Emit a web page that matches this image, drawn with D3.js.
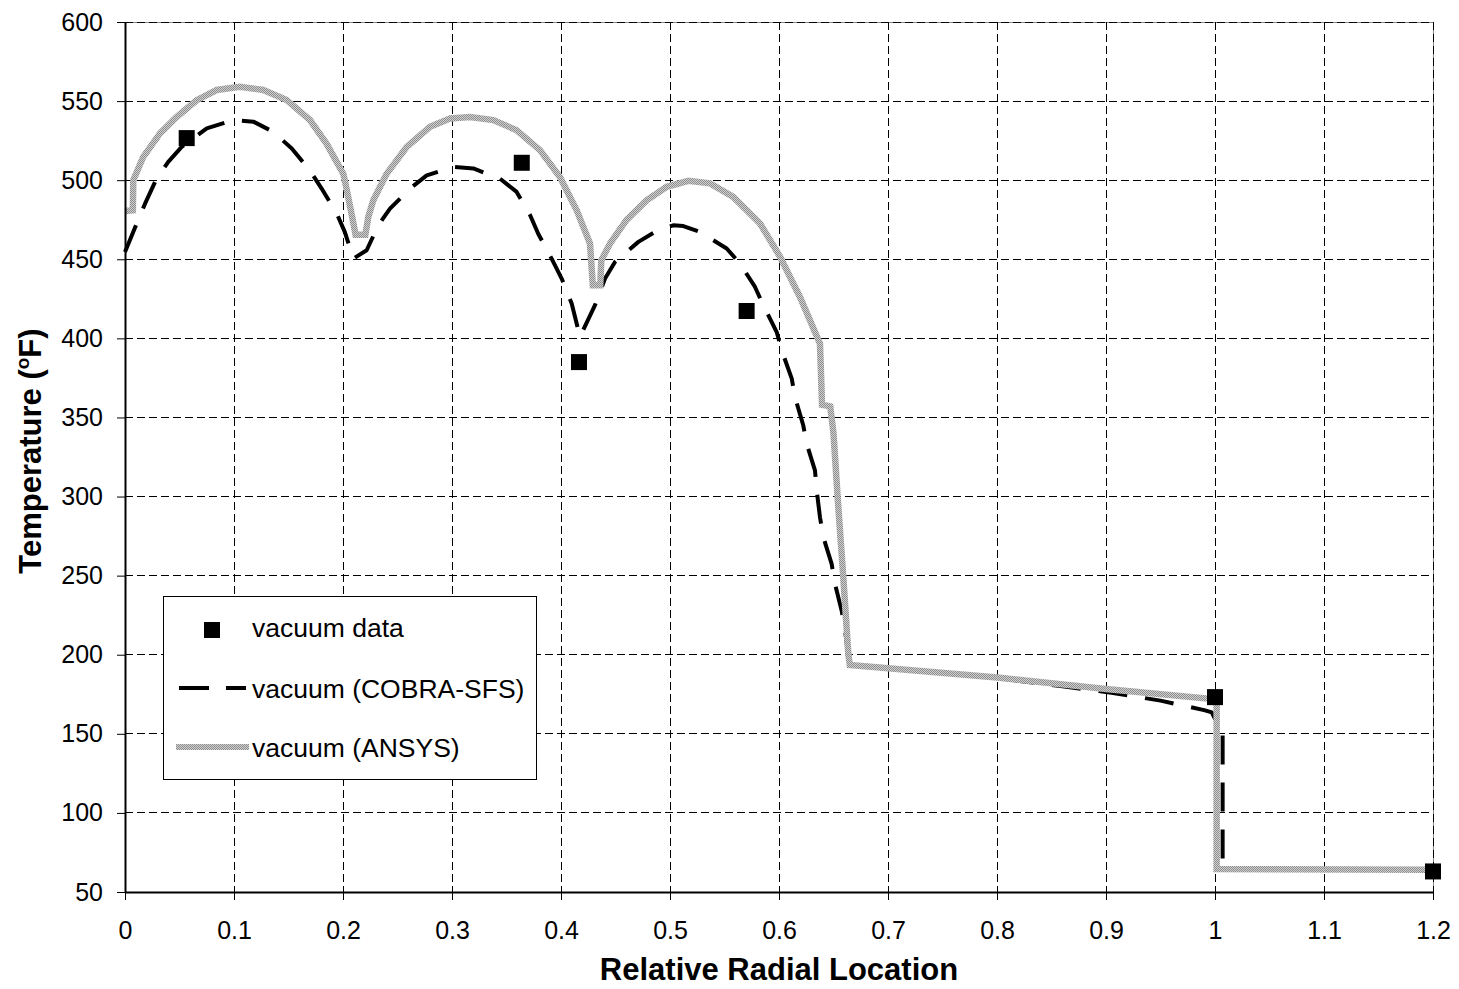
<!DOCTYPE html>
<html>
<head>
<meta charset="utf-8">
<script src="https://cdn.jsdelivr.net/npm/d3@7"></script>
<style>
  html, body { margin: 0; padding: 0; background: #fff; }
  svg text { font-family: "Liberation Sans", Arial, sans-serif; fill: #000; }
</style>
</head>
<body>
<svg id="chart" width="1459" height="989"></svg>
<script>
// ─── data ────────────────────────────────────────────────────────────────────
const xTicks = [0, 0.1, 0.2, 0.3, 0.4, 0.5, 0.6, 0.7, 0.8, 0.9, 1, 1.1, 1.2];
const xTickLabels = ['0','0.1','0.2','0.3','0.4','0.5','0.6','0.7','0.8','0.9','1','1.1','1.2'];
const yTicks = [50, 100, 150, 200, 250, 300, 350, 400, 450, 500, 550, 600];

const dataX = [0.0566, 0.364, 0.4165, 0.5703, 1.0, 1.2];
const dataT = [526.6, 511, 385, 417.3, 173.2, 63];

const cobraX = [0, 0.0107, 0.0183, 0.029, 0.0397, 0.052, 0.075, 0.0994, 0.1177, 0.136,
  0.153, 0.1697, 0.1804, 0.1942, 0.2018, 0.2095, 0.2217, 0.2324, 0.2431, 0.2615,
  0.2768, 0.3012, 0.3196, 0.344, 0.3593, 0.3716, 0.3792, 0.3914, 0.4006, 0.4098,
  0.4174, 0.4312, 0.4404, 0.4495, 0.471, 0.4862, 0.503, 0.5122, 0.5275, 0.552,
  0.5642, 0.578, 0.5856, 0.5979, 0.6025, 0.6117, 0.6147, 0.6223, 0.6254, 0.633,
  0.6346, 0.6376, 0.6407, 0.6483, 0.6514, 0.6575, 0.6606, 0.6636, 0.665, 0.80,
  0.86, 0.905, 0.95, 0.99, 0.997, 1.007, 1.007, 1.007, 1.2];
const cobraT = [454.6, 472.6, 485, 501, 511.6, 521, 532.7, 538, 537, 530.6,
  520, 506, 494.7, 479, 467, 450.4, 455.7, 471.5, 482, 494.7,
  503, 508.4, 507.4, 501, 492.6, 478, 466, 450.4, 437.8, 422,
  401, 421, 437.8, 448.3, 461, 467.3, 471.5, 471, 467.3, 456.8,
  447.3, 432.5, 420.9, 404, 392.4, 374.5, 362.8, 344.9, 333.3, 316.5,
  303.8, 286.9, 274.2, 257.4, 244.7, 227.8, 215.2, 199.4, 194, 185.3,
  180, 176, 171, 165, 163.5, 150, 71.7, 64, 64];

const ansysX = [0, 0.0072, 0.0076, 0.0168, 0.0321, 0.0474, 0.0658, 0.0841, 0.1055, 0.1269,
  0.1483, 0.1697, 0.185, 0.2003, 0.2034, 0.2095, 0.2115, 0.2205, 0.2233, 0.2278,
  0.24, 0.2584, 0.2798, 0.2982, 0.3165, 0.3379, 0.3593, 0.3807, 0.399, 0.4144,
  0.4266, 0.4292, 0.436, 0.437, 0.445, 0.46, 0.4786, 0.497, 0.5168, 0.5367,
  0.558, 0.5826, 0.601, 0.6193, 0.6376, 0.6395, 0.647, 0.650, 0.654, 0.659,
  0.6636, 0.665, 0.80, 0.90, 0.998, 1.0015, 1.0015, 1.2];
const ansysT = [480.5, 481, 500, 514.8, 529.6, 540, 550.6, 557, 559, 557,
  550.6, 538, 523, 504, 494, 473, 465.5, 465.5, 477, 487.3,
  504, 521, 533.7, 539, 540, 538, 531.6, 519, 502, 481,
  460, 433.5, 433.5, 449.4, 460, 474.7, 487.3, 495.8, 499.6, 498,
  489.4, 472.6, 451.5, 426, 396.6, 358, 357, 340, 297.5, 249,
  200.4, 193.5, 185.6, 178.3, 172, 170, 64.5, 64];

const legendLabels = ['vacuum data', 'vacuum (COBRA-SFS)', 'vacuum (ANSYS)'];

// ─── layout ─────────────────────────────────────────────────────────────────
const W = 1459, H = 989;
const M = { left: 125, right: 26, top: 22, bottom: 97 };
const svg = d3.select('#chart');

const x = d3.scaleLinear().domain([0, 1.2]).range([M.left, W - M.right]);
const y = d3.scaleLinear().domain([50, 600]).range([H - M.bottom, M.top]);

// stippled grey used by the ANSYS line
const pat = svg.append('defs').append('pattern')
  .attr('id', 'stip').attr('patternUnits', 'userSpaceOnUse')
  .attr('width', 2).attr('height', 2);
pat.append('rect').attr('width', 2).attr('height', 2).attr('fill', '#cfcfcf');
pat.append('rect').attr('x', 0).attr('y', 0).attr('width', 1).attr('height', 1).attr('fill', '#8e8e8e');
pat.append('rect').attr('x', 1).attr('y', 1).attr('width', 1).attr('height', 1).attr('fill', '#8e8e8e');

// plot frame (grey, top and right)
svg.append('rect')
  .attr('x', x(0)).attr('y', y(600))
  .attr('width', x(1.2) - x(0)).attr('height', y(50) - y(600))
  .attr('fill', 'none').attr('stroke', '#888').attr('stroke-width', 1)
  .attr('shape-rendering', 'crispEdges');

// grid
const grid = svg.append('g').attr('stroke', '#000').attr('stroke-width', 1)
  .attr('stroke-dasharray', '8,4').attr('shape-rendering', 'crispEdges');
grid.selectAll('.gx').data(xTicks.filter(d => d > 0)).enter()
  .append('line').attr('class', 'gx')
  .attr('x1', d => x(d)).attr('x2', d => x(d))
  .attr('y1', y(600)).attr('y2', y(50));
grid.selectAll('.gy').data(yTicks.filter(d => d > 50)).enter()
  .append('line').attr('class', 'gy')
  .attr('y1', d => y(d)).attr('y2', d => y(d))
  .attr('x1', x(0)).attr('x2', x(1.2));

// series
const line = d3.line().x(d => x(d[0])).y(d => y(d[1]));
const cobra = cobraX.map((v, i) => [v, cobraT[i]]);
const ansys = ansysX.map((v, i) => [v, ansysT[i]]);

svg.append('path').datum(cobra)
  .attr('d', line).attr('fill', 'none')
  .attr('stroke', '#000').attr('stroke-width', 4)
  .attr('stroke-dasharray', '29,18').attr('stroke-linejoin', 'round');

svg.append('path').datum(ansys)
  .attr('d', line).attr('fill', 'none')
  .attr('stroke', 'url(#stip)').attr('stroke-width', 6.5)
  .attr('stroke-linejoin', 'miter');

svg.selectAll('.pt').data(dataX).enter()
  .append('rect').attr('class', 'pt')
  .attr('x', d => x(d) - 8).attr('y', (d, i) => y(dataT[i]) - 8)
  .attr('width', 16).attr('height', 16).attr('fill', '#000');

// axes
const ax = svg.append('g').attr('transform', `translate(0,${y(50)})`)
  .call(d3.axisBottom(x).tickValues(xTicks).tickFormat((d, i) => xTickLabels[i])
    .tickSize(8).tickSizeOuter(0).tickPadding(21));
const ay = svg.append('g').attr('transform', `translate(${x(0)},0)`)
  .call(d3.axisLeft(y).tickValues(yTicks).tickSize(8).tickSizeOuter(0).tickPadding(14));
[ax, ay].forEach(g => {
  g.select('.domain').attr('stroke', '#000').attr('stroke-width', 2);
  g.selectAll('.tick line').attr('stroke', '#000').attr('stroke-width', 1);
  g.selectAll('.tick text').attr('font-size', 25).attr('font-family', '"Liberation Sans", Arial, sans-serif');
});

// axis titles
svg.append('text')
  .attr('x', (x(0) + x(1.2)) / 2).attr('y', 980)
  .attr('text-anchor', 'middle').attr('font-size', 31).attr('font-weight', 'bold')
  .text('Relative Radial Location');

const yt = svg.append('text')
  .attr('transform', `translate(41,${(y(50) + y(600)) / 2 - 6}) rotate(-90)`)
  .attr('text-anchor', 'middle').attr('font-size', 31).attr('font-weight', 'bold');
yt.append('tspan').text('Temperature (');
yt.append('tspan').attr('font-size', 19).attr('dy', -12).text('o');
yt.append('tspan').attr('dy', 12).text('F)');

// legend
const lg = svg.append('g');
lg.append('rect').attr('x', 163.5).attr('y', 596.5).attr('width', 373).attr('height', 183)
  .attr('fill', '#fff').attr('stroke', '#000').attr('stroke-width', 1);
lg.append('rect').attr('x', 204).attr('y', 622).attr('width', 16).attr('height', 16).attr('fill', '#000');
lg.append('line').attr('x1', 179).attr('x2', 246).attr('y1', 688).attr('y2', 688)
  .attr('stroke', '#000').attr('stroke-width', 4).attr('stroke-dasharray', '30,17');
lg.append('line').attr('x1', 176).attr('x2', 249).attr('y1', 747).attr('y2', 747)
  .attr('stroke', 'url(#stip)').attr('stroke-width', 6);
lg.selectAll('.lt').data(legendLabels).enter()
  .append('text').attr('class', 'lt')
  .attr('x', 252).attr('y', (d, i) => [637, 698, 757][i])
  .attr('font-size', 26.5).text(d => d);
</script>
</body>
</html>
